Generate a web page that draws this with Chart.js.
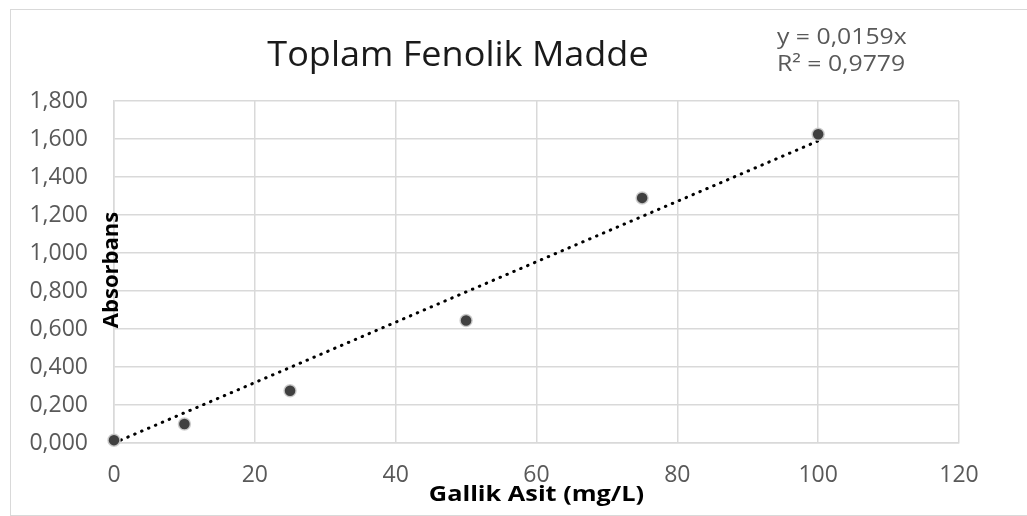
<!DOCTYPE html>
<html>
<head>
<meta charset="utf-8">
<script src="https://cdn.jsdelivr.net/npm/chart.js@4"></script>
<style>
    html, body { margin: 0; padding: 0; background: #fff; }
    #wrap { position: relative; width: 1027px; height: 516px; }
    #frame { position: absolute; left: 10px; top: 9px; width: 1030px; height: 505px; border: 1px solid #d9d9d9; }
    canvas { position: absolute; left: 0; top: 0; }
</style>
</head>
<body>
<div id="wrap">
    <div id="frame"></div>
    <canvas id="phenolChart" width="1027" height="516"></canvas>
</div>
<script>
const chartTitle = 'Toplam Fenolik Madde';
const xTitle = 'Gallik Asit (mg/L)';
const yTitle = 'Absorbans';
const equationLines = ['y = 0,0159x', 'R² = 0,9779'];

const concentrations = [0, 10, 25, 50, 75, 100];
const absorbances = [0.015, 0.10, 0.275, 0.645, 1.29, 1.625];

const trendX = [0, 100];
const trendY = [0, 1.59];

const xTicks = [0, 20, 40, 60, 80, 100, 120];
const yTicks = [0, 0.2, 0.4, 0.6, 0.8, 1.0, 1.2, 1.4, 1.6, 1.8];

const fontFamily = '"Open Sans", "Noto Sans", sans-serif';

// text stretched a little sideways, like the original picture
function drawText(ctx, text, x, y, stretch, align) {
    ctx.save();
    ctx.translate(x, y);
    ctx.scale(stretch, 1);
    ctx.textAlign = align;
    ctx.fillText(text, 0, 0);
    ctx.restore();
}

const textPlugin = {
    id: 'textPlugin',
    afterDraw(chart) {
        const ctx = chart.ctx;
        const area = chart.chartArea;
        ctx.save();
        ctx.textBaseline = 'middle';

        ctx.fillStyle = '#1a1a1a';
        ctx.font = '34px ' + fontFamily;
        drawText(ctx, chartTitle, 458, 56, 1.06, 'center');

        ctx.fillStyle = '#595959';
        ctx.font = '21px ' + fontFamily;
        drawText(ctx, equationLines[0], 777, 38, 1.18, 'left');
        drawText(ctx, equationLines[1], 777, 65, 1.18, 'left');

        ctx.fillStyle = '#000';
        ctx.font = 'bold 22px ' + fontFamily;
        drawText(ctx, xTitle, (area.left + area.right) / 2, 495, 1.15, 'center');

        ctx.translate(112, 270);
        ctx.rotate(-Math.PI / 2);
        ctx.textAlign = 'center';
        ctx.fillText(yTitle, 0, 0);
        ctx.restore();
    }
};

const ctx = document.getElementById('phenolChart').getContext('2d');
const phenolChart = new Chart(ctx, {
    type: 'scatter',
    data: {
        datasets: [{
            label: 'Absorbans',
            data: concentrations.map((x, i) => ({ x: x, y: absorbances[i] })),
            backgroundColor: '#404040',
            borderColor: 'rgba(205, 205, 205, 0.9)',
            borderWidth: 1.5,
            pointRadius: 6,
            clip: false,
            order: 1
        }, {
            label: 'Trend',
            data: trendX.map((x, i) => ({ x: x, y: trendY[i] })),
            showLine: true,
            borderColor: '#000',
            borderWidth: 3,
            borderDash: [0.5, 7],
            borderCapStyle: 'round',
            pointRadius: 0,
            fill: false,
            order: 2
        }]
    },
    options: {
        responsive: false,
        animation: false,
        layout: {
            padding: { left: 0, top: 101, right: 68, bottom: 0 }
        },
        plugins: {
            legend: { display: false },
            title: { display: false },
            tooltip: { enabled: false }
        },
        scales: {
            x: {
                type: 'linear',
                min: 0,
                max: 120,
                afterBuildTicks: scale => { scale.ticks = xTicks.map(v => ({ value: v })); },
                afterFit: scale => { scale.height = 73; },
                grid: { color: '#d9d9d9', lineWidth: 1.5, drawTicks: false },
                border: { color: '#d9d9d9', width: 1.5 },
                ticks: {
                    color: '#595959',
                    font: { family: fontFamily, size: 23 },
                    padding: 19,
                    maxRotation: 0
                }
            },
            y: {
                min: 0,
                max: 1.8,
                afterBuildTicks: scale => { scale.ticks = yTicks.map(v => ({ value: v })); },
                afterFit: scale => { scale.width = 114; },
                grid: { color: '#d9d9d9', lineWidth: 1.5, drawTicks: false },
                border: { color: '#d9d9d9', width: 1.5 },
                ticks: {
                    color: '#595959',
                    font: { family: fontFamily, size: 23 },
                    padding: 26,
                    callback: v => v.toFixed(3).replace('.', ',')
                }
            }
        }
    },
    plugins: [textPlugin]
});
</script>
</body>
</html>
